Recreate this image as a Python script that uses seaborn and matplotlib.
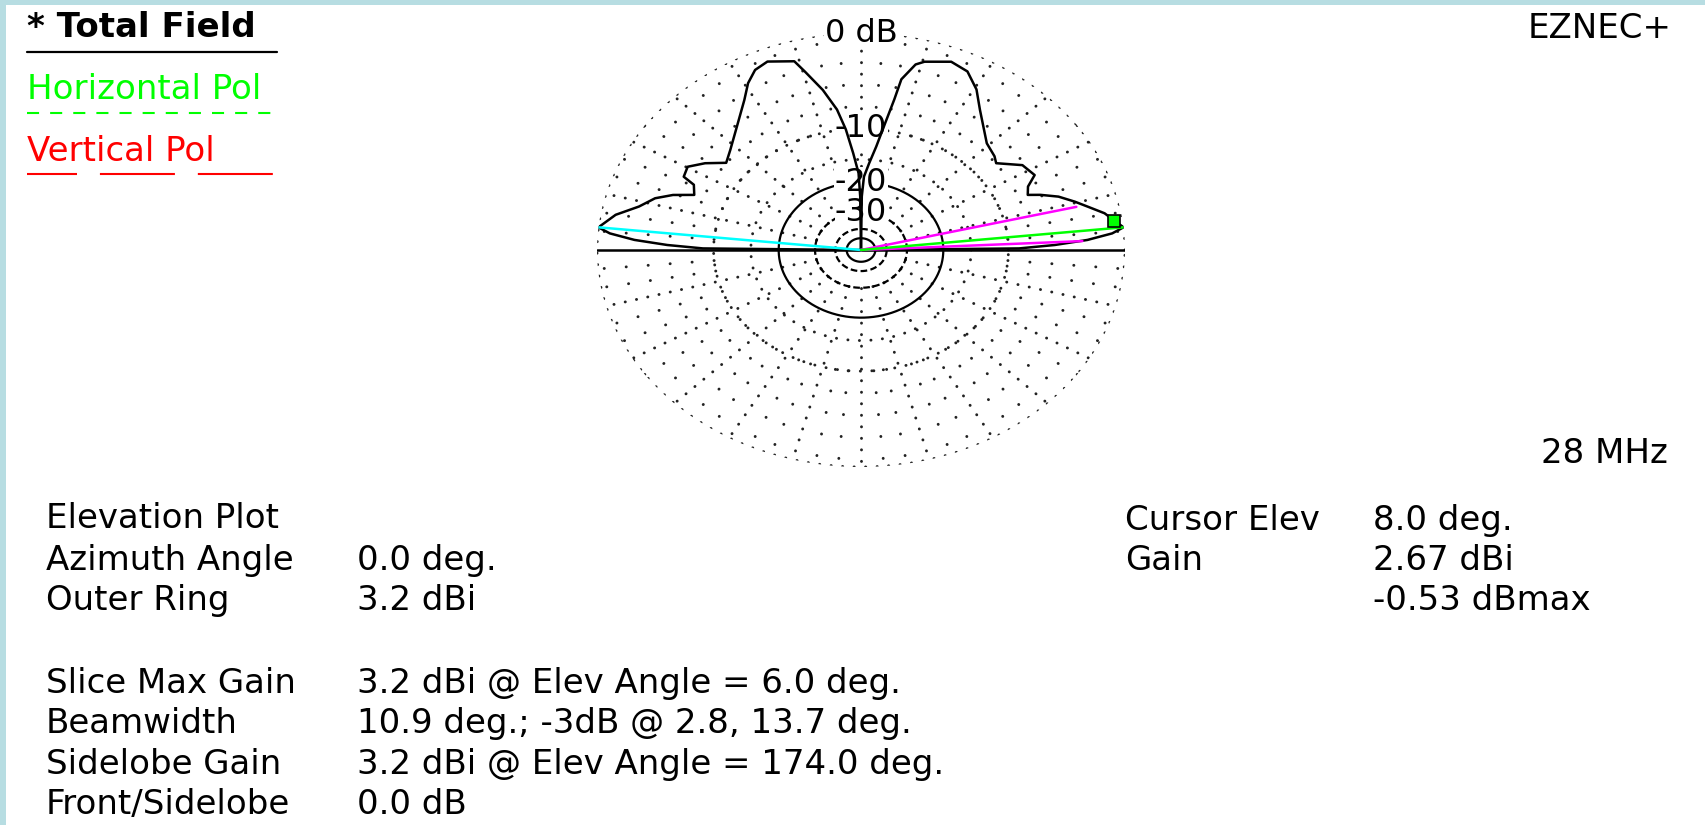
import numpy as np
import pandas as pd
import seaborn as sns
import matplotlib.pyplot as plt

# Total field elevation pattern (dB below the 3.2 dBi outer ring)
elev_deg = [0, 0.7, 1.8, 3.1, 4.6, 6.0, 8.0, 10.4, 13.2, 15.4, 18.2, 20.5, 21.9,
            24.8, 27.7, 32.6, 38.0, 40.5, 45.9, 55.1, 59.4, 63.9, 68.5, 74.5,
            76.4, 79.0, 79.7, 81.1, 83.1, 85.6, 88.1, 89.3, 90.0, 90.7, 91.5,
            93.8, 95.9, 98.0, 101.1, 104.5, 106.2, 112.2, 115.8, 119.1, 122.6,
            129.5, 137.0, 141.8, 145.9, 149.7, 153.3, 154.6, 158.1, 160.4, 163.0,
            166.6, 170.1, 174.0, 175.4, 176.9, 178.2, 179.3, 180]
total_db = [-99, -8.8, -5.3, -2.6, -0.8, 0.0, -0.53, -1.1, -2.2, -3.0, -4.1, -5.5, -6.6,
            -6.2, -5.1, -5.5, -7.4, -7.0, -6.5, -4.1, -2.6, -1.5, -1.2, -1.8,
            -2.2, -3.8, -6.0, -9.0, -12.6, -15.7, -18.6, -24.0, -99, -24.0, -17.8,
            -13.8, -10.0, -7.3, -4.9, -2.8, -1.7, -1.1, -1.4, -2.2, -3.4,
            -5.2, -6.7, -7.4, -5.8, -4.7, -4.9, -6.1, -6.6, -4.8, -3.5,
            -2.5, -1.0, 0.0, -0.8, -2.6, -5.3, -8.8, -99]

# markers on the plot
max_elev, max_db = 6.0, 0.0
side_elev, side_db = 174.0, 0.0
bw_elev = [2.8, 13.7]
bw_db = -3.0
cursor_elev, cursor_db = 8.0, -0.53

ring_dotted = [0, -10, -15]
ring_solid = [-20, -50]
ring_dashed = [-30, -40]
ring_labels = {0: "0 dB", -10: "-10", -20: "-20", -30: "-30"}

legend_names = ["* Total Field", "Horizontal Pol", "Vertical Pol"]
legend_colors = ["black", "#00ff00", "#ff0000"]

info_left = ["Elevation Plot", "Azimuth Angle", "Outer Ring", "",
             "Slice Max Gain", "Beamwidth", "Sidelobe Gain", "Front/Sidelobe"]
info_left_val = ["", "0.0 deg.", "3.2 dBi", "",
                 "3.2 dBi @ Elev Angle = 6.0 deg.",
                 "10.9 deg.; -3dB @ 2.8, 13.7 deg.",
                 "3.2 dBi @ Elev Angle = 174.0 deg.", "0.0 dB"]
info_right = ["Cursor Elev", "Gain", ""]
info_right_val = ["8.0 deg.", "2.67 dBi", "-0.53 dBmax"]


def arrl(db):
    # ARRL log scale used by EZNEC
    return 0.89 ** (-np.asarray(db, dtype=float) / 2)


sns.set_theme(style="white")
plt.rcParams["font.family"] = ["DejaVu Sans"]
plt.rcParams["text.color"] = "black"
FS = 24.5

W, H = 1705, 825
fig = plt.figure(figsize=(W / 100, H / 100), dpi=100)
fig.patch.set_facecolor("white")

bg = fig.add_axes([0, 0, 1, 1])
bg.set_xlim(0, W)
bg.set_ylim(H, 0)
bg.axis("off")
border = "#b7dde2"
bg.add_patch(plt.Rectangle((0, 0), W, 5, color=border, lw=0))
bg.add_patch(plt.Rectangle((0, 0), 6, H, color=border, lw=0))

# polar plot, stretched into an ellipse like the screenshot
cx, cy, rx, ry = 861, 250, 264, 217
ax = fig.add_axes([(cx - rx) / W, 1 - (cy + ry) / H, 2 * rx / W, 2 * ry / H],
                  projection="polar")
ax.set_aspect("auto")
ax.set_ylim(0, 1)
ax.set_axis_off()

full = np.linspace(0, 2 * np.pi, 1441)
dot = dict(color="#222222", lw=2.1, linestyle=(0, (0.05, 3.9)), dash_capstyle="round", zorder=1)
sparse = dict(dot, linestyle=(0, (0.05, 7.5)))
for db in ring_dotted:
    ax.plot(full, np.full_like(full, arrl(db)), **dot)
for db in ring_solid:
    ax.plot(full, np.full_like(full, arrl(db)), color="black", lw=1.6, zorder=1.5)
for db in ring_dashed:
    ax.plot(full, np.full_like(full, arrl(db)), color="black", lw=1.6,
            linestyle=(0, (3, 1.5)), zorder=1.5)

for a in range(0, 360, 5):
    if a in (0, 180):
        continue
    t = np.radians(a)
    if a % 15 == 0:
        ax.plot([t, t], [arrl(-30), 1], **dot)
    else:
        ax.plot([t, t], [arrl(-10), 1], **sparse)

for db, lab in ring_labels.items():
    ax.text(np.pi / 2, arrl(db), lab, ha="center", va="center", fontsize=23,
            color="black", zorder=2, bbox=dict(fc="white", ec="none", pad=0.2))

# horizon
ax.plot([0, 0, np.pi, np.pi], [1, 0, 0, 1], color="black", lw=1.8, zorder=3)

pat = pd.DataFrame({"theta": np.radians(elev_deg), "r": arrl(total_db)})
sns.lineplot(data=pat, x="theta", y="r", sort=False, estimator=None,
             color="black", lw=1.8, ax=ax, zorder=4)
ax.set_axis_off()

ax.plot([0, np.radians(side_elev)], [0, arrl(side_db)], color="#00ffff", lw=1.8, zorder=5)
for e in bw_elev:
    ax.plot([np.radians(e)] * 2, [0, arrl(bw_db)], color="#ff00ff", lw=1.8, zorder=5)
ax.plot([np.radians(max_elev)] * 2, [0, arrl(max_db)], color="#00ff00", lw=1.8, zorder=5)
ax.plot(np.radians(cursor_elev), arrl(cursor_db), marker="s", ms=8,
        mfc="#00ff00", mec="black", mew=1.2, zorder=6, clip_on=False)

# legend block
leg_base = [37, 99, 161]
leg_line = [52, 113, 174]
leg_style = ["-", (0, (5.8, 5.3)), (12, (36, 11))]
for name, col, yb, yl, ls in zip(legend_names, legend_colors, leg_base, leg_line, leg_style):
    bg.text(27, yb, name, color=col, fontsize=FS, va="baseline", ha="left",
            fontweight="bold" if name.startswith("*") else "normal")
    bg.plot([27, 277], [yl, yl], color=col, lw=1.6 if ls == "-" else 1.5, linestyle=ls)

bg.text(1672, 38, "EZNEC+", fontsize=FS, ha="right", va="baseline")
bg.text(1668, 463, "28 MHz", fontsize=FS, ha="right", va="baseline")

left_base = [528, 570, 610, 650, 693, 733, 774, 814]
for lab, val, yb in zip(info_left, info_left_val, left_base):
    bg.text(46, yb, lab, fontsize=FS, va="baseline")
    bg.text(357, yb, val, fontsize=FS, va="baseline")
for lab, val, yb in zip(info_right, info_right_val, [530, 570, 610]):
    bg.text(1125, yb, lab, fontsize=FS, va="baseline")
    bg.text(1373, yb, val, fontsize=FS, va="baseline")

fig.savefig("out.png", dpi=100, facecolor="white")
